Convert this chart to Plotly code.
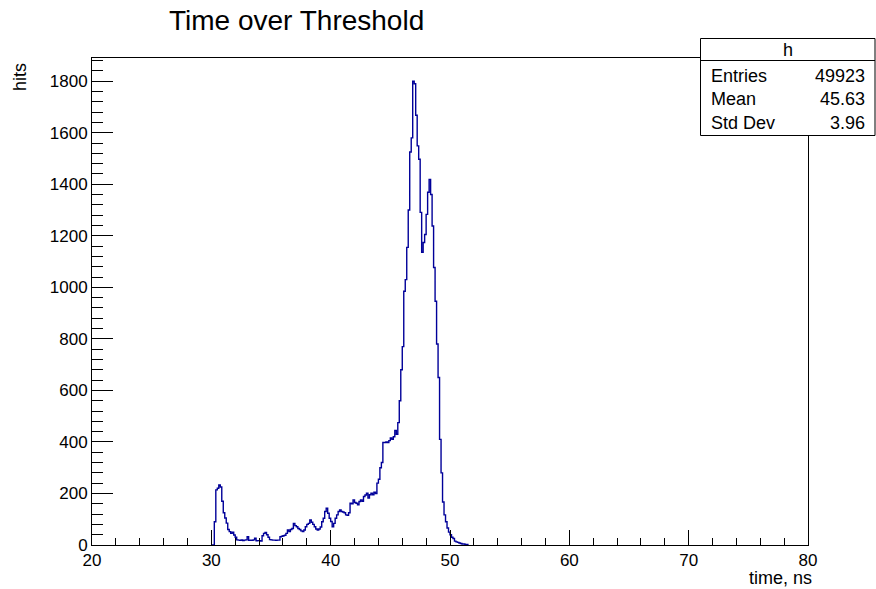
import numpy as np
import plotly.graph_objects as go

# ---- data ----
bin_start = 30.0
bin_width = 0.125
counts = [
    0, 0, 90, 214, 220, 233, 225, 170,            # 30.0 - 30.875
    125, 105, 85, 60, 52, 45, 50, 39,             # 31.0 - 31.875
    30, 20, 19, 18, 20, 17, 19, 20,               # 32.0 - 32.875
    32, 18, 19, 18, 20, 26, 16, 17,               # 33.0 - 33.875
    17, 15, 36, 45, 49, 40, 30, 21,               # 34.0 - 34.875
    20, 19, 19, 18, 19, 19, 32, 34,               # 35.0 - 35.875
    36, 38, 45, 58, 52, 60, 64, 84,               # 36.0 - 36.875
    75, 71, 64, 60, 55, 52, 58, 71,               # 37.0 - 37.875
    80, 84, 97, 88, 80, 71, 62, 58,               # 38.0 - 38.875
    62, 70, 90, 104, 130, 143, 123, 104,          # 39.0 - 39.875
    91, 71, 84, 104, 117, 130, 136, 130,          # 40.0 - 40.875
    128, 125, 117, 115, 125, 162, 160, 175,       # 41.0 - 41.875
    165, 162, 156, 169, 175, 170, 188, 194,       # 42.0 - 42.875
    201, 182, 195, 201, 195, 205, 200, 240,       # 43.0 - 43.875
    255, 300, 320, 398, 398, 400, 398, 405,       # 44.0 - 44.875
    415, 410, 420, 445, 430, 475, 560, 680,       # 45.0 - 45.875
    770, 985, 1030, 1155, 1300, 1525, 1580, 1800, # 46.0 - 46.875
    1790, 1668, 1549, 1497, 1291, 1136, 1174, 1205,  # 47.0 - 47.875
    1283, 1369, 1419, 1360, 1238, 1077, 946, 780,    # 48.0 - 48.875
    650, 410, 280, 167, 117, 90, 66, 50,          # 49.0 - 49.875
    40, 30, 25, 15, 12, 10, 8, 6,                 # 50.0 - 50.875
    4, 4, 2, 2,                                   # 51.0 - 51.375
]

x_range = [20, 80]
x_ticks = [20, 30, 40, 50, 60, 70, 80]
y_ticks = [0, 200, 400, 600, 800, 1000, 1200, 1400, 1600, 1800]

title_text = "Time over Threshold"
x_title = "time, ns"
y_title = "hits"
stats_name = "h"
stats_labels = ["Entries", "Mean", "Std Dev"]
stats_values = ["49923", "45.63", "3.96"]

# ---- build step outline ----
edges = bin_start + bin_width * np.arange(len(counts) + 1)
xs = np.concatenate([[edges[0]], edges])
ys = np.concatenate([[0], counts, [0]])

FONT = "Liberation Sans, Arial, Helvetica, sans-serif"
W, H = 876, 589
L, R, T, B = 92, 808, 58, 545
pw, ph = R - L, B - T


def px(xp):
    return (xp - L) / pw


def py(yp):
    return (B - yp) / ph


ymax = max(counts) * 1.05

fig = go.Figure()
fig.add_trace(go.Scatter(
    x=xs, y=ys, mode="lines", line=dict(color="#000099", width=1.4, shape="hv"),
    hoverinfo="skip", showlegend=False))

fig.update_layout(
    width=W, height=H, autosize=False,
    margin=dict(l=L, r=W - R, t=T, b=H - B, pad=0),
    paper_bgcolor="white", plot_bgcolor="white",
    font=dict(family=FONT, size=17, color="black"),
    showlegend=False,
)
fig.update_xaxes(
    range=x_range, tickvals=x_ticks, ticks="inside", ticklen=15, tickwidth=1,
    tickcolor="black", showline=True, linecolor="black", linewidth=1, mirror=True,
    showgrid=False, zeroline=False, tickfont=dict(family=FONT, size=17, color="black"),
    minor=dict(ticks="inside", ticklen=7, dtick=2, tickcolor="black", showgrid=False),
)
fig.update_yaxes(
    range=[0, ymax], tickvals=y_ticks, ticks="inside", ticklen=21, tickwidth=1,
    tickcolor="black", showline=True, linecolor="black", linewidth=1, mirror=True,
    showgrid=False, zeroline=False, tickfont=dict(family=FONT, size=17, color="black"),
    minor=dict(ticks="inside", ticklen=11, dtick=40, tickcolor="black", showgrid=False),
)

ann = []
ann.append(dict(text=title_text, x=px(296.5), y=py(20), xref="paper", yref="paper",
                xanchor="center", yanchor="middle", showarrow=False,
                font=dict(family=FONT, size=28, color="black")))
ann.append(dict(text=x_title, x=px(814), y=py(578), xref="paper", yref="paper",
                xanchor="right", yanchor="middle", showarrow=False,
                font=dict(family=FONT, size=18, color="black")))
ann.append(dict(text=y_title, x=px(20), y=py(61), xref="paper", yref="paper",
                xanchor="center", yanchor="top", textangle=-90, showarrow=False,
                font=dict(family=FONT, size=18, color="black")))

# stats box
shapes = [
    dict(type="rect", xref="paper", yref="paper", x0=px(700.5), x1=px(875),
         y0=py(135.5), y1=py(38.5), line=dict(color="black", width=1),
         fillcolor="white", layer="above"),
    dict(type="line", xref="paper", yref="paper", x0=px(700.5), x1=px(875),
         y0=py(60.5), y1=py(60.5), line=dict(color="black", width=1), layer="above"),
]
ann.append(dict(text=stats_name, x=px(788), y=py(49.5), xref="paper", yref="paper",
                xanchor="center", yanchor="middle", showarrow=False,
                font=dict(family=FONT, size=18, color="black")))
rows_y = [75.5, 99.5, 123]
for lab, val, yy in zip(stats_labels, stats_values, rows_y):
    ann.append(dict(text=lab, x=px(709), y=py(yy), xref="paper", yref="paper",
                    xanchor="left", yanchor="middle", showarrow=False,
                    font=dict(family=FONT, size=18, color="black")))
    ann.append(dict(text=val, x=px(867), y=py(yy), xref="paper", yref="paper",
                    xanchor="right", yanchor="middle", showarrow=False,
                    font=dict(family=FONT, size=18, color="black")))

fig.update_layout(annotations=ann, shapes=shapes)

fig.write_html("out.html", config={"displayModeBar": False},
               post_script="document.body.style.margin='0';document.body.style.overflow='hidden';")
